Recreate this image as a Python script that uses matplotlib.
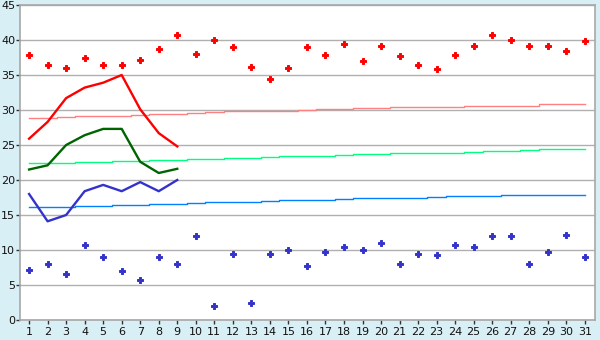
import numpy as np
import matplotlib.pyplot as plt

days = list(range(1, 32))

# daily extremes (markers)
max_temp = [37.8, 36.5, 36.0, 37.4, 36.5, 36.5, 37.2, 38.7, 40.7, 38.0,
            40.0, 39.0, 36.1, 34.5, 36.0, 39.0, 37.8, 39.5, 37.0, 39.2,
            37.7, 36.5, 35.8, 37.8, 39.1, 40.7, 40.0, 39.1, 39.1, 38.5, 39.8]
min_temp = [7.2, 8.0, 6.6, 10.7, 9.0, 7.0, 5.7, 9.0, 8.0, 12.0,
            2.0, 9.4, 2.4, 9.5, 10.0, 7.7, 9.7, 10.5, 10.0, 11.0,
            8.0, 9.5, 9.3, 10.7, 10.4, 12.0, 12.0, 8.0, 9.7, 12.1, 9.0]

# current period lines (days 1-9)
line_days = days[:9]
high_line = [25.9, 28.3, 31.7, 33.2, 33.9, 35.0, 30.1, 26.7, 24.8]
mean_line = [21.5, 22.1, 25.0, 26.4, 27.3, 27.3, 22.6, 21.0, 21.6]
low_line = [18.0, 14.1, 15.0, 18.4, 19.3, 18.4, 19.7, 18.4, 20.0]

# normals
high_norm = [28.9, 28.9, 29.0, 29.1, 29.2, 29.2, 29.3, 29.4, 29.5, 29.6,
             29.7, 29.8, 29.9, 29.9, 29.9, 30.0, 30.1, 30.2, 30.3, 30.3,
             30.4, 30.4, 30.5, 30.5, 30.6, 30.6, 30.6, 30.6, 30.8, 30.8, 30.8]
mean_norm = [22.4, 22.4, 22.5, 22.6, 22.6, 22.7, 22.7, 22.8, 22.9, 23.0,
             23.0, 23.1, 23.2, 23.3, 23.4, 23.4, 23.5, 23.6, 23.7, 23.7,
             23.8, 23.8, 23.9, 23.9, 24.0, 24.1, 24.2, 24.3, 24.4, 24.4, 24.4]
low_norm = [16.1, 16.2, 16.2, 16.3, 16.3, 16.4, 16.5, 16.6, 16.6, 16.7,
            16.8, 16.9, 16.9, 17.0, 17.1, 17.1, 17.2, 17.3, 17.4, 17.4,
            17.4, 17.5, 17.6, 17.7, 17.7, 17.7, 17.8, 17.9, 17.9, 17.9, 17.9]

fig = plt.figure(figsize=(6, 3.4), dpi=100, facecolor='#d9eff6')
ax = fig.add_axes([20/600, 20/340, 575/600, 315/340])
ax.set_facecolor('white')

ax.plot(days, high_norm, color='#ff8080', lw=1, drawstyle='steps-mid')
ax.plot(days, mean_norm, color='#00ff80', lw=1, drawstyle='steps-mid')
ax.plot(days, low_norm, color='#0080ff', lw=1, drawstyle='steps-mid')

ax.plot(line_days, high_line, color='#ff0000', lw=1.7)
ax.plot(line_days, mean_line, color='#006400', lw=1.7)
ax.plot(line_days, low_line, color='#3333cc', lw=1.7)

ax.plot(days, max_temp, ls='none', marker='P', ms=4.3, color='#ff0000', mew=0.7)
ax.plot(days, min_temp, ls='none', marker='P', ms=4.3, color='#3333cc', mew=0.7)

ax.set_xlim(0.51, 31.55)
ax.set_ylim(0, 45)
ax.set_xticks(days)
ax.set_yticks(range(0, 46, 5))
ax.yaxis.grid(True, color='#b0b0b0', lw=1)
ax.set_axisbelow(True)
for s in ax.spines.values():
    s.set_color('#a8a8a8')
    s.set_linewidth(1.2)
ax.tick_params(axis='both', labelsize=8, colors='#333333', length=3, width=1, pad=1)
ax.tick_params(axis='x', labelcolor='#111111', pad=2)
ax.tick_params(axis='y', labelcolor='#111111', pad=0.5)

fig.savefig('out.png', dpi=100, facecolor=fig.get_facecolor())
